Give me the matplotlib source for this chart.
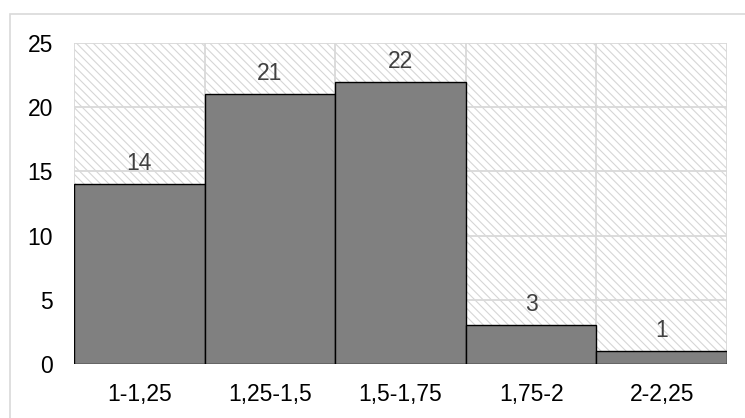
import numpy as np
import matplotlib
matplotlib.use("Agg")
import matplotlib.pyplot as plt
from matplotlib.patches import Rectangle

categories = ["1-1,25", "1,25-1,5", "1,5-1,75", "1,75-2", "2-2,25"]
counts = [14, 21, 22, 3, 1]
yticks = [0, 5, 10, 15, 20, 25]

plt.rcParams['font.family'] = ['Liberation Sans', 'DejaVu Sans']
plt.rcParams['hatch.linewidth'] = 0.8
plt.rcParams['hatch.color'] = '#d6d6d6'

fig = plt.figure(figsize=(7.45, 4.18), dpi=100)
ax = fig.add_axes([74/745, 1-364/418, (727-74)/745, (364-43)/418])

# outer chart border
fig.patches.append(Rectangle((10/745, -0.1), 1.0, 1.1 - 14/418, transform=fig.transFigure,
                             fill=False, edgecolor='#d9d9d9', linewidth=1.2))

n = len(categories)
x = np.arange(n)
ax.set_xlim(-0.5, n-0.5)
ax.set_ylim(0, 25)

# hatched plot background
ax.add_patch(Rectangle((-0.5, 0), n, 25, facecolor='white', edgecolor='#d6d6d6',
                       hatch='\\\\\\\\', linewidth=0, zorder=0))

for v in yticks[1:]:
    ax.axhline(v, color='#d9d9d9', linewidth=1.3, zorder=1)
for b in np.arange(n+1) - 0.5:
    ax.axvline(b, color='#d9d9d9', linewidth=1.3, zorder=1)

ax.bar(x, counts, width=1.0, color='#808080', edgecolor='black', linewidth=1.0, zorder=3)
for xi, c in zip(x, counts):
    ax.text(xi, c + 0.7, str(c), ha='center', va='bottom', fontsize=16.5, color='#404040', zorder=4)

ax.set_xticks(x)
ax.set_xticklabels(categories, fontsize=16.5)
ax.set_yticks(yticks)
ax.set_yticklabels([str(v) for v in yticks], fontsize=16.5)
ax.tick_params(length=0)
ax.tick_params(axis='x', pad=14)
ax.tick_params(axis='y', pad=15)
for s in ax.spines.values():
    s.set_visible(False)

fig.savefig("out.png", dpi=100)
